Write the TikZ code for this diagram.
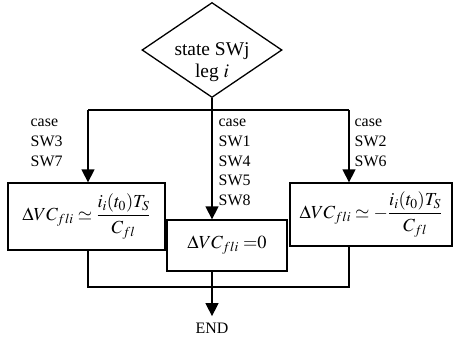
\documentclass[tikz,border=0pt]{standalone}
\usepackage{amsmath}
\usepackage{mathptmx}
\usepackage{fontspec}
\setmainfont{Liberation Serif}
\usetikzlibrary{shapes.geometric, arrows.meta, positioning, calc}

\begin{document}
\begin{tikzpicture}[
  x=1bp, y=-1bp,
  line width=1.3bp,
  dec/.style={diamond, draw, minimum width=140bp, minimum height=95bp, inner sep=0pt},
  blk/.style={rectangle, draw, inner sep=0pt, font=\fontsize{18.5}{22}\selectfont},
  lbl/.style={font=\fontsize{16}{20}\selectfont, align=left, anchor=north west, inner sep=0pt},
  arr/.style={-{Triangle[length=13bp, width=13bp]}},
]
\useasboundingbox (0,0) rectangle (454,341);

%% Decision
\node[dec] (swj) at (212,50) {};
\node[font=\fontsize{19.5}{22}\selectfont, align=center, inner sep=0pt] (swjtxt) at (212,62.5) {state SWj\\leg $i$};

%% Result blocks
\node[blk, minimum width=157bp, minimum height=67bp] (lbox) at (86.5,216.5)  {$\Delta VC_{fli}\simeq\dfrac{i_i(t_0)T_S}{C_{fl}}$};
\node[blk, minimum width=120bp, minimum height=51bp] (mbox) at (227,245.5)   {$\Delta VC_{fli}\;{=}0$};
\node[blk, minimum width=162bp, minimum height=63bp] (rbox) at (371,214.5)   {$\Delta VC_{fli}\simeq-\dfrac{i_i(t_0)T_S}{C_{fl}}$};
\node[font=\fontsize{16}{20}\selectfont, inner xsep=0pt, inner ysep=6bp] (fin) at (212,328) {END};

%% Branch points
\coordinate (jl) at (88,110);
\coordinate (jr) at (349,110);
\coordinate (jb) at (212,287);

%% Split
\draw (jl) -- (jr);
\draw[arr] (jl) -- (jl |- lbox.north);
\draw[arr] (jr) -- (jr |- rbox.north);
\draw[arr] (swj.south) -- (swj.south |- mbox.north);

%% Cases
\node[lbl] (lcase) at (30,118)  {case\\SW3\\SW7};
\node[lbl] (mcase) at (218,118) {case\\SW1\\SW4\\SW5\\SW8};
\node[lbl] (rcase) at (354,118) {case\\SW2\\SW6};

%% Merge
\draw (lbox.south -| jl) |- (jb) -| (rbox.south -| jr);
\draw[arr] (mbox.south -| swj) -- (fin);
\end{tikzpicture}
\end{document}
